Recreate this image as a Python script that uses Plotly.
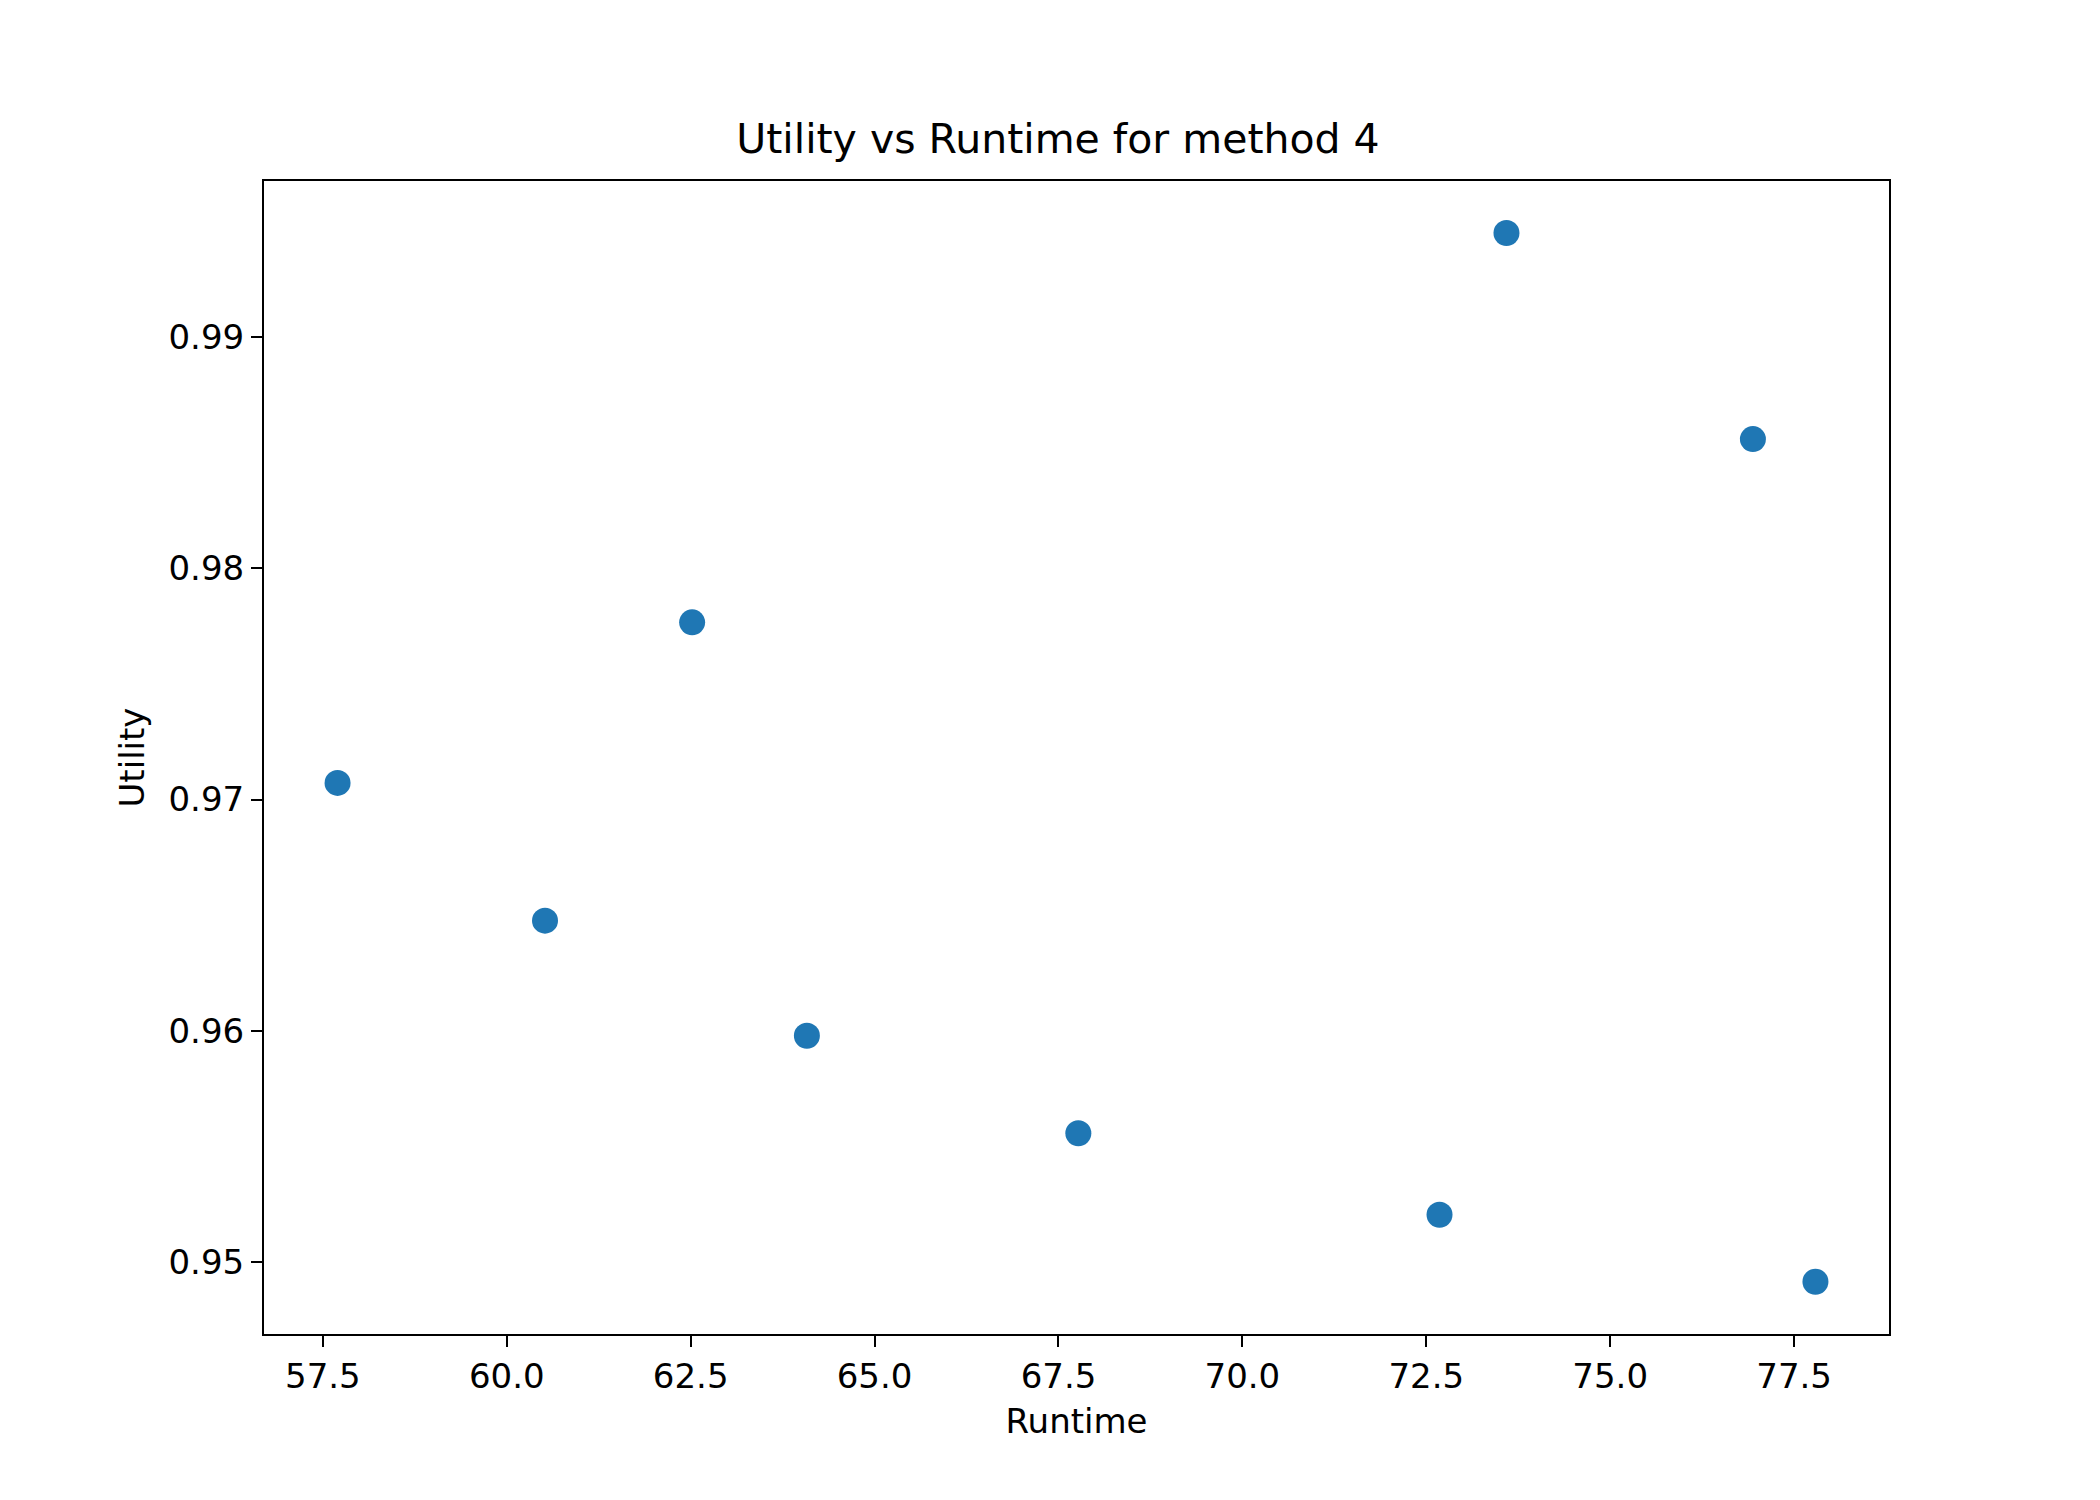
import plotly.graph_objects as go

runtime = [57.70, 60.52, 62.52, 64.08, 67.77, 72.68, 73.59, 76.94, 77.79]
utility = [0.97072, 0.96476, 0.97767, 0.95978, 0.95556, 0.95203, 0.99452, 0.98560, 0.94913]

fig = go.Figure()
fig.add_trace(go.Scatter(x=runtime, y=utility, mode="markers",
                         marker=dict(color="#1f77b4", size=26)))

axis = dict(showline=True, linecolor="black", linewidth=2, mirror=True,
            showgrid=False, zeroline=False, ticks="outside", ticklen=11,
            tickwidth=2, tickcolor="black",
            tickfont=dict(size=34, color="black"))

fig.update_layout(
    width=2100, height=1500,
    paper_bgcolor="white", plot_bgcolor="white",
    font=dict(family="DejaVu Sans", color="black"),
    title=dict(text="Utility vs Runtime for method 4", x=0.5, xanchor="center",
               y=1 - 131 / 1500, yanchor="middle", font=dict(size=41)),
    margin=dict(l=256, r=219, t=173, b=174),
    showlegend=False,
)
fig.update_xaxes(axis, range=[56.70, 78.79], tickvals=[57.5 + 2.5 * i for i in range(9)],
                 ticktext=[f"{57.5 + 2.5 * i:.1f}" for i in range(9)],
                 title=dict(text="Runtime", font=dict(size=34), standoff=14))
fig.update_yaxes(axis, range=[0.94687, 0.99677], tickvals=[0.95, 0.96, 0.97, 0.98, 0.99],
                 ticktext=["0.95", "0.96", "0.97", "0.98", "0.99"],
                 title=dict(text="Utility", font=dict(size=34), standoff=14))

fig.write_html("out.html")
